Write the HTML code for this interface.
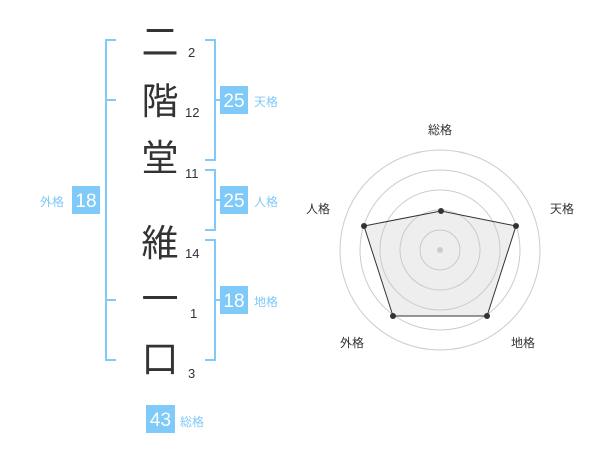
<!DOCTYPE html>
<html><head><meta charset="utf-8"><style>
body{margin:0;background:#fff;width:600px;height:470px;overflow:hidden;font-family:"Liberation Sans","Noto Sans CJK JP",sans-serif}
</style></head><body>
<svg width="600" height="470" viewBox="0 0 600 470" xmlns="http://www.w3.org/2000/svg" font-family="Liberation Sans, Noto Sans CJK JP, sans-serif">
<g stroke="#7fcaf8" stroke-width="2" fill="none">
<path d="M116 40H106V360H116M106 100H116M106 300H116"/>
<path d="M205 40H215V160H205M215 100H222"/>
<path d="M205 170H215V230H205M215 200H222"/>
<path d="M205 240H215V360H205M215 300H222"/>
</g>
<g fill="#333" font-size="37" text-anchor="middle" font-family="Noto Sans CJK JP, sans-serif">
<text x="160" y="55">二</text>
<text x="160" y="114">階</text>
<text x="160" y="171">堂</text>
<text x="160" y="256">維</text>
<text x="160" y="312">一</text>
<text x="160" y="372">口</text>
</g>
<g fill="#333" font-size="13">
<text x="188" y="57">2</text>
<text x="185" y="117">12</text>
<text x="185" y="178">11</text>
<text x="185" y="258">14</text>
<text x="190" y="318">1</text>
<text x="188" y="378">3</text>
</g>
<g fill="#7fcaf8">
<rect x="220" y="86" width="28" height="28"/>
<rect x="220" y="186" width="28" height="28"/>
<rect x="220" y="286" width="28" height="28"/>
<rect x="72" y="186" width="28" height="28"/>
<rect x="146" y="405" width="29" height="28"/>
</g>
<g fill="#fff" font-size="19" text-anchor="middle">
<text x="234" y="107">25</text>
<text x="234" y="207">25</text>
<text x="234" y="307">18</text>
<text x="86" y="207">18</text>
<text x="160.5" y="426">43</text>
</g>
<g fill="#7fcaf8" font-size="12">
<text x="254" y="106">天格</text>
<text x="254" y="206">人格</text>
<text x="254" y="306">地格</text>
<text x="40" y="206">外格</text>
<text x="180" y="426">総格</text>
</g>
<g stroke="#ccc" fill="none" stroke-width="1">
<circle cx="440" cy="250" r="20"/><circle cx="440" cy="250" r="40"/><circle cx="440" cy="250" r="60"/><circle cx="440" cy="250" r="80"/><circle cx="440" cy="250" r="100"/>
</g>
<polygon points="441,211 516,226 487,316 393,316 364,226" fill="rgba(200,200,200,0.3)" stroke="#333" stroke-width="1"/>
<circle cx="440" cy="250" r="3" fill="#ccc"/>
<g fill="#333">
<circle cx="441" cy="211" r="3"/><circle cx="516" cy="226" r="3"/><circle cx="487" cy="316" r="3"/><circle cx="393" cy="316" r="3"/><circle cx="364" cy="226" r="3"/>
</g>
<g fill="#333" font-size="12" text-anchor="middle">
<text x="440" y="134">総格</text>
<text x="562" y="213">天格</text>
<text x="523" y="347">地格</text>
<text x="352" y="347">外格</text>
<text x="318" y="213">人格</text>
</g>
</svg>
</body></html>
